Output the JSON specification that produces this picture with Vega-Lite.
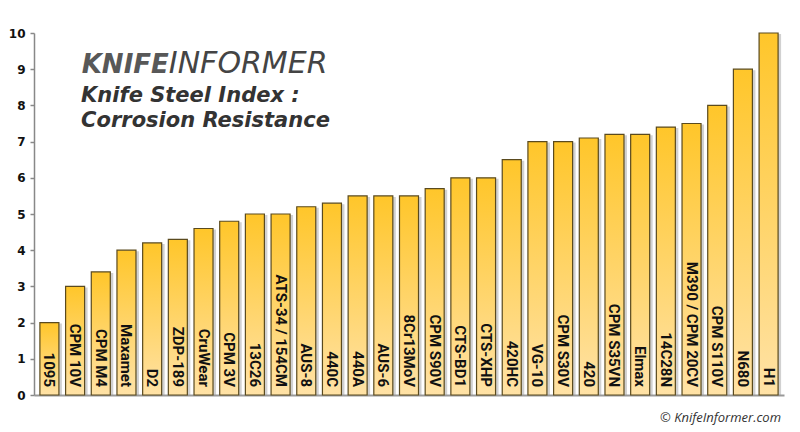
{
  "$schema": "https://vega.github.io/schema/vega-lite/v6.json",
  "width": 750,
  "height": 362,
  "autosize": {"type": "none"},
  "padding": {"left": 34, "top": 33, "right": 16, "bottom": 37},
  "background": "white",
  "config": {"view": {"stroke": null}},
  "title": {
    "text": "© KnifeInformer.com",
    "orient": "bottom",
    "anchor": "end",
    "font": "Open Sans",
    "fontStyle": "italic",
    "fontWeight": "normal",
    "fontSize": 13,
    "color": "#333333",
    "offset": 11,
    "dx": -3
  },
  "data": {
    "values": [
      {"steel": "1095", "value": 2},
      {"steel": "CPM 10V", "value": 3},
      {"steel": "CPM M4", "value": 3.4},
      {"steel": "Maxamet", "value": 4},
      {"steel": "D2", "value": 4.2},
      {"steel": "ZDP-189", "value": 4.3},
      {"steel": "CruWear", "value": 4.6},
      {"steel": "CPM 3V", "value": 4.8},
      {"steel": "13C26", "value": 5},
      {"steel": "ATS-34 / 154CM", "value": 5},
      {"steel": "AUS-8", "value": 5.2},
      {"steel": "440C", "value": 5.3},
      {"steel": "440A", "value": 5.5},
      {"steel": "AUS-6", "value": 5.5},
      {"steel": "8Cr13MoV", "value": 5.5},
      {"steel": "CPM S90V", "value": 5.7},
      {"steel": "CTS-BD1", "value": 6},
      {"steel": "CTS-XHP", "value": 6},
      {"steel": "420HC", "value": 6.5},
      {"steel": "VG-10", "value": 7},
      {"steel": "CPM S30V", "value": 7},
      {"steel": "420", "value": 7.1},
      {"steel": "CPM S35VN", "value": 7.2},
      {"steel": "Elmax", "value": 7.2},
      {"steel": "14C28N", "value": 7.4},
      {"steel": "M390 / CPM 20CV", "value": 7.5},
      {"steel": "CPM S110V", "value": 8},
      {"steel": "N680", "value": 9},
      {"steel": "H1", "value": 10}
    ]
  },
  "encoding": {
    "x": {
      "field": "steel",
      "type": "nominal",
      "sort": null,
      "scale": {"paddingInner": 0.26, "paddingOuter": 0.23},
      "axis": {"labels": false, "ticks": false, "title": null, "domainColor": "#999999", "domainWidth": 2}
    },
    "y": {
      "field": "value",
      "type": "quantitative",
      "scale": {"domain": [0, 10]},
      "axis": {
        "title": null,
        "values": [0, 1, 2, 3, 4, 5, 6, 7, 8, 9, 10],
        "labelOverlap": false,
        "grid": false,
        "labelFont": "DejaVu Sans",
        "labelFontWeight": "bold",
        "labelFontSize": 12,
        "labelColor": "#111111",
        "labelPadding": 5,
        "tickColor": "#888888",
        "tickSize": 4,
        "tickWidth": 1.5,
        "domainColor": "#888888",
        "domainWidth": 1.5
      }
    }
  },
  "layer": [
    {
      "mark": {"type": "bar", "color": "#9a9a9a", "opacity": 0.45, "xOffset": 3, "yOffset": 1}
    },
    {
      "mark": {
        "type": "bar",
        "fill": {
          "gradient": "linear",
          "x1": 0, "y1": 0, "x2": 0, "y2": 1,
          "stops": [
            {"offset": 0, "color": "#FFC62A"},
            {"offset": 1, "color": "#FFE2A6"}
          ]
        },
        "stroke": "#5a4a1e",
        "strokeWidth": 1.2
      }
    },
    {
      "mark": {
        "type": "text",
        "angle": 90,
        "align": "right",
        "baseline": "middle",
        "dx": -8,
        "font": "Roboto",
        "fontWeight": "bold",
        "fontSize": 15,
        "color": "#111111"
      },
      "encoding": {
        "y": {"datum": 0, "type": "quantitative"},
        "text": {"field": "steel"}
      }
    },
    {
      "transform": [{"filter": "datum.steel == 'H1'"}],
      "mark": {
        "type": "text",
        "align": "right",
        "baseline": "alphabetic",
        "dx": -9,
        "font": "DejaVu Sans",
        "fontWeight": "bold",
        "fontStyle": "italic",
        "fontSize": 26,
        "color": "#585858"
      },
      "encoding": {
        "x": {"datum": "ZDP-189"},
        "y": {"datum": 8.9, "type": "quantitative"},
        "text": {"value": "KNIFE"}
      }
    },
    {
      "transform": [{"filter": "datum.steel == 'H1'"}],
      "mark": {
        "type": "text",
        "align": "left",
        "baseline": "alphabetic",
        "dx": -9,
        "font": "DejaVu Sans",
        "fontWeight": 200,
        "fontStyle": "italic",
        "fontSize": 30,
        "color": "#444444"
      },
      "encoding": {
        "x": {"datum": "ZDP-189"},
        "y": {"datum": 8.9, "type": "quantitative"},
        "text": {"value": "INFORMER"}
      }
    },
    {
      "transform": [{"filter": "datum.steel == 'H1'"}],
      "mark": {
        "type": "text",
        "align": "left",
        "baseline": "alphabetic",
        "dx": 6,
        "font": "DejaVu Sans",
        "fontWeight": "bold",
        "fontStyle": "italic",
        "fontSize": 21,
        "color": "#333333"
      },
      "encoding": {
        "x": {"datum": "CPM 10V"},
        "y": {"datum": 8.09, "type": "quantitative"},
        "text": {"value": "Knife Steel Index :"}
      }
    },
    {
      "transform": [{"filter": "datum.steel == 'H1'"}],
      "mark": {
        "type": "text",
        "align": "left",
        "baseline": "alphabetic",
        "dx": 6,
        "font": "DejaVu Sans",
        "fontWeight": "bold",
        "fontStyle": "italic",
        "fontSize": 21,
        "color": "#333333"
      },
      "encoding": {
        "x": {"datum": "CPM 10V"},
        "y": {"datum": 7.4, "type": "quantitative"},
        "text": {"value": "Corrosion Resistance"}
      }
    }
  ]
}
